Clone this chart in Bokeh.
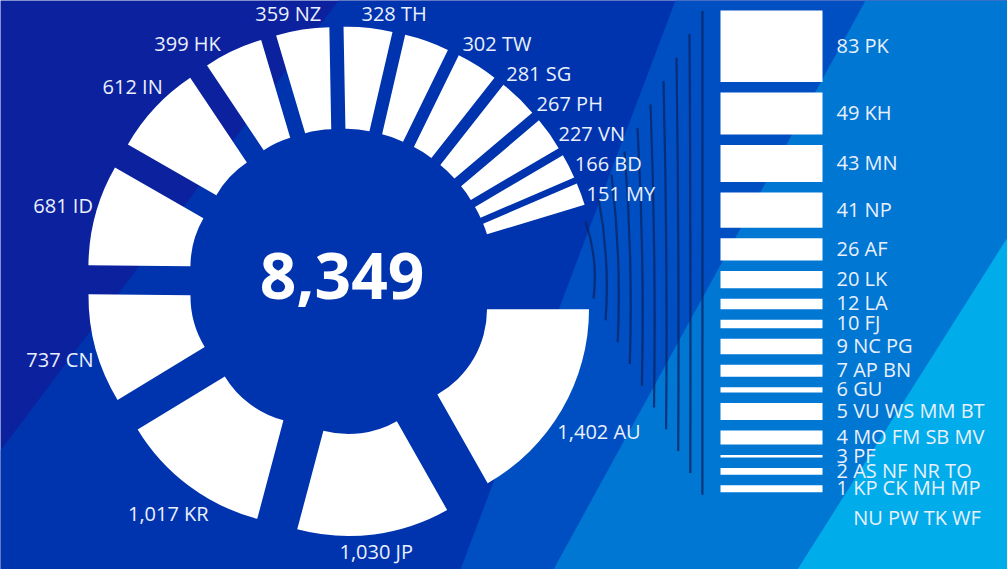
import numpy as np
from bokeh.plotting import figure
from bokeh.models import ColumnDataSource, Range1d
from bokeh.core.properties import value
from bokeh.embed import file_html
from bokeh.resources import INLINE

# ---------------- data ----------------
ring_codes = ["AU", "JP", "KR", "CN", "ID", "IN", "HK", "NZ", "TH", "TW", "SG", "PH", "VN", "BD", "MY"]
ring_values = [1402, 1030, 1017, 737, 681, 612, 399, 359, 328, 302, 281, 267, 227, 166, 151]
total_value = 8349
small_values = [83, 49, 43, 41, 26, 20, 12, 10, 9, 7, 6, 5, 4, 3, 2, 1]
small_codes = [["PK"], ["KH"], ["MN"], ["NP"], ["AF"], ["LK"], ["LA"], ["FJ"], ["NC", "PG"],
               ["AP", "BN"], ["GU"], ["VU", "WS", "MM", "BT"], ["MO", "FM", "SB", "MV"], ["PF"],
               ["AS", "NF", "NR", "TO"], ["KP", "CK", "MH", "MP", "NU", "PW", "TK", "WF"]]

# ---------------- layout ----------------
W, H = 1007, 569
CX, CY = 341.0, 281.0          # ring centre (screen coords, y down)
EXPLODE = 55.0
R_OUT, R_IN = 200.0, 98.0
FONT = "Open Sans"
TXT = "#eaf0fd"

def sy(y):  # screen y -> data y
    return H - np.asarray(y, dtype=float)

CW = {c: 0.572 for c in "0123456789"}
CW.update({",": 0.245, " ": 0.26, "A": .633, "B": .648, "C": .631, "D": .729, "F": .544, "G": .728,
           "H": .742, "I": .279, "K": .602, "L": .549, "M": .903, "N": .754, "P": .617, "R": .635,
           "S": .549, "T": .553, "U": .742, "V": .596, "W": .922, "Y": .563, "Z": .570, "O": .781})

def text_w(s, size=20):
    return sum(CW.get(ch, 0.6) for ch in s) * size

p = figure(width=W, height=H, x_range=Range1d(0, W), y_range=Range1d(0, H),
           output_backend="svg", toolbar_location=None, min_border=0,
           x_axis_type=None, y_axis_type=None)
p.grid.visible = False
p.outline_line_color = None
p.background_fill_color = "#0b219d"
p.border_fill_color = "#0b219d"

# background diagonal bands (screen coords)
bands = [
    ([338, W, W, 0, 0], [0, 0, H, H, 450], "#0034ae"),
    ([675, W, W, 460], [0, 0, H, H], "#004fc2"),
    ([865, W, W, 553], [0, 0, H, H], "#0077d3"),
    ([W, W, 797], [237, H, H], "#00acea"),
]
p.patches(xs=[b[0] for b in bands], ys=[list(sy(b[1])) for b in bands],
          fill_color=[b[2] for b in bands], line_color=None)

# ---------------- fan of lines (behind labels) ----------------
n_lines = 10
for i in range(n_lines):
    xt, yt = 585 + 13.0 * i, 221 - 23.4 * i
    xb, yb = 593 + 12.1 * i, 298 + 21.8 * i
    bulge = 4.5 * (1 - i / (n_lines - 1))
    p.quadratic(x0=[xt], y0=sy([yt]), x1=[xb], y1=sy([yb]),
                cx=[(xt + xb) / 2 + 2 * bulge], cy=sy([(yt + yb) / 2]),
                line_color="#0a2466", line_alpha=0.8, line_width=2.2)

# ---------------- ring (exploded donut) ----------------
deg_per = 360.0 / total_value
cum = np.concatenate([[0], np.cumsum(ring_values)]) * deg_per
start, end = cum[:-1], cum[1:]
mid = (start + end) / 2
mr = np.radians(mid)
ex = CX + EXPLODE * np.cos(mr)
ey = CY + EXPLODE * np.sin(mr)
wsrc = ColumnDataSource(dict(x=ex, y=sy(ey), sa=-np.radians(end), ea=-np.radians(start)))
p.annular_wedge(x="x", y="y", inner_radius=R_IN, outer_radius=R_OUT, start_angle="sa",
                end_angle="ea", direction="anticlock", fill_color="white", line_color=None,
                source=wsrc)

# ring labels
RL, HH = 257.0, 10.0
labels = [f"{v:,} {c}" for v, c in zip(ring_values, ring_codes)]
hws = [text_w(s) / 2 for s in labels]

def lab_pos(theta, hw):
    t = np.radians(theta)
    d = RL + hw * abs(np.cos(t)) + HH * abs(np.sin(t))
    return CX + d * np.cos(t), CY + d * np.sin(t)

def solve_theta(target_y, hw, right):
    lo, hi = (-90.0, 90.0) if right else (90.0, 270.0)
    for _ in range(60):
        m = (lo + hi) / 2
        y = lab_pos(m, hw)[1]
        if right:
            lo, hi = (m, hi) if y < target_y else (lo, m)
        else:
            lo, hi = (m, hi) if y > target_y else (lo, m)
    return (lo + hi) / 2

pos = []
for i in range(len(labels)):
    th = mid[i] if mid[i] <= 270 else mid[i] - 360
    pos.append(list(lab_pos(th, hws[i])) + [th])

for right in (True, False):
    idx = [i for i in range(len(labels)) if (np.cos(np.radians(pos[i][2])) > 0) == right]
    idx.sort(key=lambda i: pos[i][1])
    prev = None
    for i in idx:
        ty = max(pos[i][1], HH + 3)
        if prev is not None:
            ty = max(ty, prev + 30)
        if abs(ty - pos[i][1]) > 1e-6:
            th = solve_theta(ty, hws[i], right)
            x, y = lab_pos(th, hws[i])
            pos[i] = [x, y, th]
        prev = pos[i][1]

lsrc = ColumnDataSource(dict(x=[q[0] for q in pos], y=sy([q[1] for q in pos]), t=labels))
p.text(x="x", y="y", text="t", source=lsrc, text_font=value(FONT), text_font_size="20px",
       text_color=TXT, text_align="center", text_baseline="middle")

# centre total
p.text(x=[CX + 0.5], y=sy([275]), text=[f"{total_value:,}"], text_font=value(FONT),
       text_font_size="64px", text_font_style="bold", text_color="white",
       text_align="center", text_baseline="middle")

# ---------------- small-country bars ----------------
K, GAP, TOP = 0.86, 10.5, 10.0
tops, bots, ys_c = [], [], []
y = TOP
for v, cs in zip(small_values, small_codes):
    h = v * len(cs) * K
    tops.append(y)
    bots.append(y + h)
    ys_c.append(y + h / 2)
    y += h + GAP
bsrc = ColumnDataSource(dict(top=sy(tops), bottom=sy(bots)))
p.quad(left=720, right=822, top="top", bottom="bottom", fill_color="white", line_color=None,
       source=bsrc)

bx, by, bt = [], [], []
for v, cs, yc in zip(small_values, small_codes, ys_c):
    first = cs[:4]
    bx.append(836)
    by.append(yc - 1)
    bt.append(f"{v} " + " ".join(first))
    if len(cs) > 4:
        bx.append(836 + text_w(f"{v} "))
        by.append(yc + 29)
        bt.append(" ".join(cs[4:]))
rsrc = ColumnDataSource(dict(x=bx, y=sy(by), t=bt))
p.text(x="x", y="y", text="t", source=rsrc, text_font=value(FONT), text_font_size="20px",
       text_color=TXT, text_align="left", text_baseline="middle")

open("out.html", "w").write(file_html(p, INLINE))
